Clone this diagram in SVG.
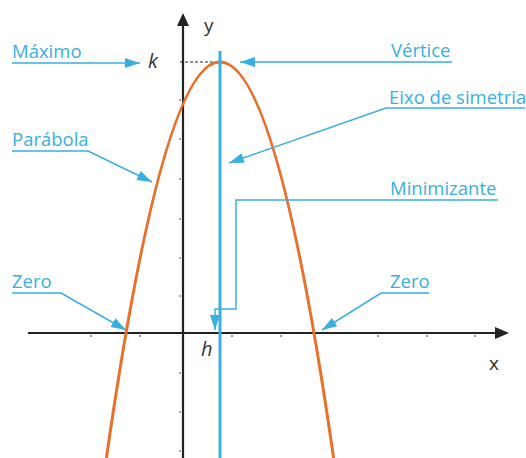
<svg xmlns="http://www.w3.org/2000/svg" width="526" height="458" viewBox="0 0 526 458">
<style>
.lbl{font-family:"Open Sans","Noto Sans",sans-serif;font-size:18.5px;fill:#3aaee0}
.var{font-family:"Open Sans","Noto Sans",sans-serif;font-size:19px;fill:#333}
.it{font-style:italic;font-size:20px}
.ln{fill:none;stroke:#3aaee0;stroke-width:1.5}
.ax{stroke:#222;stroke-width:2.2}
.tk{stroke:#555;stroke-width:1.2}
</style>
<defs>
<marker id="ab" markerUnits="userSpaceOnUse" markerWidth="16" markerHeight="12" refX="15" refY="5" orient="auto" viewBox="0 0 16 10">
<path d="M0,0 L15,5 L0,10 Z" fill="#3aaee0"/>
</marker>
</defs>
<rect width="526" height="458" fill="#fff"/>
<g id="axes">
<line class="ax" x1="28" y1="333" x2="497" y2="333"/>
<path d="M495,327 L509,333 L495,339 Z" fill="#222"/>
<line class="ax" x1="183" y1="458" x2="183" y2="24"/>
<path d="M177,26 L183,13 L189,26 Z" fill="#222"/>
<g class="tk">
<line x1="179" y1="100" x2="181" y2="100"/>
<line x1="179" y1="139" x2="181" y2="139"/>
<line x1="179" y1="179" x2="181" y2="179"/>
<line x1="179" y1="219" x2="181" y2="219"/>
<line x1="179" y1="258" x2="181" y2="258"/>
<line x1="179" y1="296" x2="181" y2="296"/>
<line x1="179" y1="373" x2="181" y2="373"/>
<line x1="179" y1="412" x2="181" y2="412"/>
<line x1="179" y1="451" x2="181" y2="451"/>
<line x1="91" y1="335" x2="91" y2="337"/>
<line x1="140" y1="335" x2="140" y2="337"/>
<line x1="232" y1="335" x2="232" y2="337"/>
<line x1="281" y1="335" x2="281" y2="337"/>
<line x1="378" y1="335" x2="378" y2="337"/>
<line x1="427" y1="335" x2="427" y2="337"/>
<line x1="475" y1="335" x2="475" y2="337"/>
</g>
<text class="var" x="204" y="32">y</text>
<text class="var" x="489" y="370">x</text>
<text class="var it" x="148" y="68">k</text>
<text class="var it" x="201" y="356">h</text>
<line x1="180" y1="62" x2="220" y2="62" stroke="#222" stroke-width="1" stroke-dasharray="3,2"/>
</g>
<g id="parabola">
<path d="M106.4,458 Q220,-334 333.6,458" fill="none" stroke="#e8702a" stroke-width="3"/>
</g>
<g id="eixo-line">
<line x1="220" y1="51" x2="220" y2="458" stroke="#3aaee0" stroke-width="3"/>
</g>
<g id="maximo"><text class="lbl" x="12" y="58">Máximo</text></g>
<g id="vertice"><text class="lbl" x="391" y="57">Vértice</text></g>
<g id="eixo"><text class="lbl" x="389" y="104">Eixo de simetria</text></g>
<g id="parabola-lbl"><text class="lbl" x="12" y="146">Parábola</text></g>
<g id="minimizante"><text class="lbl" x="390" y="195">Minimizante</text></g>
<g id="zero-left"><text class="lbl" x="12" y="288">Zero</text></g>
<g id="zero-right"><text class="lbl" x="390" y="288">Zero</text></g>
<g id="connectors">
<path class="ln" d="M12,63 L140,63" stroke-width="2.2" marker-end="url(#ab)"/>
<path class="ln" d="M452,62 L240,62" stroke-width="2.2" marker-end="url(#ab)"/>
<path class="ln" d="M525,108 L386,108 L229,163" marker-end="url(#ab)"/>
<path class="ln" d="M12,151 L88,151 L152,182" marker-end="url(#ab)"/>
<path class="ln" d="M498,200 L236,200 L236,309 L215,309 L215,330" marker-end="url(#ab)"/>
<path class="ln" d="M12,293 L61,293 L126,330" marker-end="url(#ab)"/>
<path class="ln" d="M429,293 L381,293 L322,330" marker-end="url(#ab)"/>
</g>
</svg>
